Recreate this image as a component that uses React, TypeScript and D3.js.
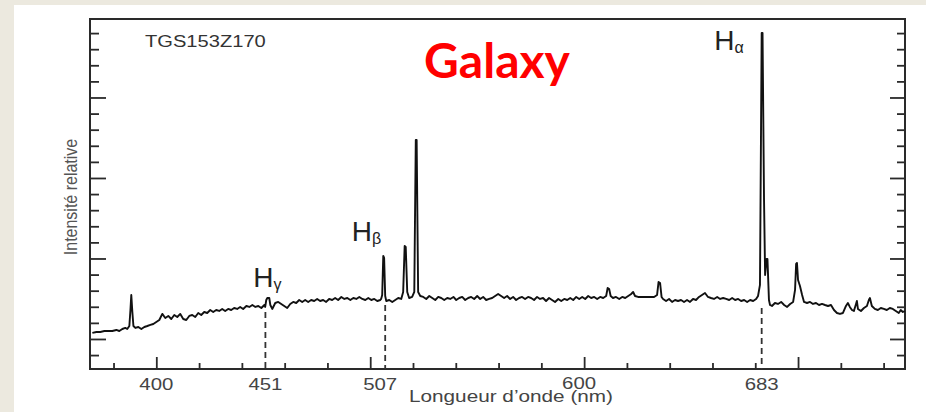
import React, { useEffect, useRef } from 'react'
import * as d3 from 'd3'

// wavelength (nm), relative intensity
const spectrum: [number, number][] = [
  [370.1, 1.075], [372.0, 1.087], [373.8, 1.087], [375.7, 1.099], [377.6, 1.099], [379.4, 1.099],
  [381.3, 1.112], [382.7, 1.099], [384.1, 1.124], [385.5, 1.137], [386.4, 1.124], [387.4, 1.161],
  [387.9, 1.36], [388.3, 1.547], [388.8, 1.335], [389.3, 1.161], [390.2, 1.137], [391.6, 1.149],
  [393.0, 1.124], [394.4, 1.149], [395.8, 1.161], [397.2, 1.174], [398.6, 1.186],
  [400.0, 1.211], [401.4, 1.236], [402.8, 1.311], [404.2, 1.261], [405.6, 1.286], [407.0, 1.248],
  [408.4, 1.298], [409.8, 1.273], [411.2, 1.311], [412.6, 1.248], [414.0, 1.236], [415.4, 1.286],
  [416.8, 1.298], [418.2, 1.273], [419.6, 1.323], [421.0, 1.298], [422.4, 1.335], [423.8, 1.323],
  [425.2, 1.36], [426.6, 1.335], [428.0, 1.36], [429.4, 1.348], [430.8, 1.373], [432.2, 1.348],
  [433.6, 1.373], [435.0, 1.36], [436.4, 1.385], [437.8, 1.373], [439.2, 1.398], [440.6, 1.373],
  [442.1, 1.41], [443.5, 1.398], [444.9, 1.422], [446.3, 1.398], [447.7, 1.41], [449.1, 1.385],
  [450.5, 1.422], [450.9, 1.398], [451.4, 1.484], [451.9, 1.509], [452.8, 1.509], [453.3, 1.422],
  [454.2, 1.373], [455.6, 1.447], [457.0, 1.46], [458.4, 1.435], [459.8, 1.41], [461.2, 1.385],
  [462.6, 1.435], [464.0, 1.46], [465.4, 1.447], [466.8, 1.484], [468.2, 1.46], [469.6, 1.484],
  [471.0, 1.46], [472.4, 1.484], [473.8, 1.472], [475.2, 1.497], [476.6, 1.472], [478.0, 1.484],
  [479.4, 1.46], [480.8, 1.497], [482.2, 1.484], [483.6, 1.509], [485.0, 1.484], [486.5, 1.522],
  [487.9, 1.497], [489.3, 1.509], [490.7, 1.484], [492.1, 1.509], [493.5, 1.497], [494.9, 1.522],
  [496.3, 1.497], [497.7, 1.484], [499.1, 1.509], [500.5, 1.484], [501.9, 1.497], [503.3, 1.472],
  [504.7, 1.484], [505.1, 1.497], [505.6, 1.547], [506.1, 2.031], [506.5, 2.006], [507.0, 1.534],
  [507.5, 1.472], [508.9, 1.484], [510.3, 1.46], [511.7, 1.484], [513.1, 1.509], [514.5, 1.497],
  [515.4, 1.584], [516.1, 2.155], [516.6, 2.143], [517.3, 1.584], [518.2, 1.509], [519.6, 1.522],
  [520.6, 1.584], [521.3, 3.472], [521.7, 3.472], [522.4, 1.584], [523.4, 1.534],
  [524.8, 1.522], [526.2, 1.497], [527.6, 1.534], [529.0, 1.509], [530.4, 1.484], [531.8, 1.522],
  [533.2, 1.509], [534.6, 1.484], [536.0, 1.509], [537.4, 1.497], [538.9, 1.522], [540.2, 1.484],
  [541.6, 1.509], [543.0, 1.522], [544.4, 1.484], [545.8, 1.509], [547.2, 1.522], [548.6, 1.497],
  [550.0, 1.534], [551.4, 1.497], [552.8, 1.522], [554.2, 1.484], [555.6, 1.497], [557.0, 1.509],
  [558.4, 1.534], [559.8, 1.559], [561.2, 1.534], [562.6, 1.509], [564.0, 1.534], [565.4, 1.497],
  [566.8, 1.522], [568.2, 1.484], [569.6, 1.509], [571.0, 1.522], [572.4, 1.497], [573.8, 1.522],
  [575.2, 1.509], [576.6, 1.484], [578.0, 1.522], [579.4, 1.497], [580.8, 1.509], [582.2, 1.472],
  [583.6, 1.509], [585.0, 1.484], [586.4, 1.46], [587.9, 1.497], [589.3, 1.472], [590.7, 1.497],
  [592.1, 1.484], [593.5, 1.509], [594.9, 1.484], [596.3, 1.522], [597.7, 1.497], [599.1, 1.522],
  [600.5, 1.497], [601.9, 1.534], [603.3, 1.509], [604.7, 1.522], [606.1, 1.497], [607.5, 1.522],
  [608.9, 1.509], [610.3, 1.534], [611.0, 1.634], [611.7, 1.621], [612.4, 1.534], [613.5, 1.509],
  [614.9, 1.522], [616.4, 1.497], [617.8, 1.522], [619.2, 1.509], [620.6, 1.534], [622.0, 1.559],
  [622.9, 1.584], [623.8, 1.534], [625.2, 1.522], [627.1, 1.522], [629.9, 1.522], [632.7, 1.522],
  [634.1, 1.547], [634.8, 1.708], [635.5, 1.696], [636.2, 1.522], [636.9, 1.497], [638.3, 1.472],
  [639.7, 1.497], [641.1, 1.46], [642.5, 1.484], [643.9, 1.472], [645.3, 1.484], [646.7, 1.46],
  [648.1, 1.484], [649.5, 1.46], [650.9, 1.497], [652.3, 1.484], [653.7, 1.522], [655.1, 1.547],
  [656.5, 1.571], [657.9, 1.522], [659.3, 1.509], [660.7, 1.497], [662.2, 1.522], [663.6, 1.497],
  [665.0, 1.509], [666.4, 1.497], [667.8, 1.484], [669.2, 1.509], [670.6, 1.484], [672.0, 1.497],
  [673.4, 1.472], [674.8, 1.484], [676.2, 1.46], [677.6, 1.484], [679.0, 1.472], [680.4, 1.497],
  [681.3, 1.534], [682.2, 1.671], [683.0, 4.801], [683.4, 4.801], [684.1, 2.727], [684.6, 1.795],
  [685.3, 1.994], [685.7, 1.994], [686.4, 1.484], [686.9, 1.422], [687.8, 1.41], [689.2, 1.447],
  [690.6, 1.435], [692.1, 1.46], [693.5, 1.422], [694.9, 1.398], [696.3, 1.435], [697.7, 1.46],
  [698.6, 1.609], [699.1, 1.932], [699.5, 1.944], [700.0, 1.733], [700.9, 1.658], [701.9, 1.547],
  [702.8, 1.46], [704.2, 1.447], [705.6, 1.46], [707.0, 1.435], [708.4, 1.447], [709.8, 1.422],
  [711.2, 1.435], [712.6, 1.422], [714.0, 1.41], [715.4, 1.422], [716.8, 1.36], [718.2, 1.323],
  [719.6, 1.311], [721.0, 1.323], [722.4, 1.41], [723.3, 1.447], [724.2, 1.398], [725.2, 1.36],
  [726.1, 1.348], [727.1, 1.435], [727.5, 1.472], [728.0, 1.373], [729.4, 1.348], [730.8, 1.385],
  [732.2, 1.41], [733.1, 1.484], [733.6, 1.509], [734.5, 1.41], [735.9, 1.373], [737.3, 1.36],
  [738.7, 1.385], [740.1, 1.373], [741.5, 1.36], [742.9, 1.385], [744.3, 1.373], [745.7, 1.348],
  [747.1, 1.323], [748.0, 1.36], [749.0, 1.335], [749.9, 1.348]
]

const majorX = [400, 500, 600, 700]
const minorX = [380, 420, 440, 460, 480, 520, 540, 560, 580, 620, 640, 660, 680, 720, 740]
const xLabels = [400, 451, 507, 600, 683]
const majorY = [1, 2, 3, 4]
const minorY = [0.8, 1.2, 1.4, 1.6, 1.8, 2.2, 2.4, 2.6, 2.8, 3.2, 3.4, 3.6, 3.8, 4.2, 4.4, 4.6, 4.8]
const markedLines = [451, 507, 683]
const lineNames = ['γ', 'β', 'α']
const lineLevels = [1.65, 2.22, 4.59]

export default function App() {
  const ref = useRef<SVGSVGElement>(null)

  useEffect(() => {
    const svg = d3.select(ref.current)
    svg.selectAll('*').remove()

    const left = 90, right = 905, top = 19, bottom = 369
    const x = d3.scaleLinear().domain([369, 750]).range([left, right])
    const y = d3.scaleLinear().domain([0.627, 4.975]).range([bottom, top])

    svg.append('rect').attr('width', 926).attr('height', 412).attr('fill', '#ECE9DF')
    svg.append('rect').attr('x', 14).attr('y', 5).attr('width', 912).attr('height', 407).attr('fill', '#fff')

    // ticks, all pointing inwards
    const axes = [
      { ax: d3.axisBottom(x).tickValues(minorX).tickSize(-6), t: `translate(0,${bottom})` },
      { ax: d3.axisBottom(x).tickValues(majorX).tickSize(-12), t: `translate(0,${bottom})` },
      { ax: d3.axisLeft(y).tickValues(minorY).tickSize(-9), t: `translate(${left},0)` },
      { ax: d3.axisLeft(y).tickValues(majorY).tickSize(-16), t: `translate(${left},0)` },
      { ax: d3.axisRight(y).tickValues(minorY).tickSize(-8), t: `translate(${right},0)` },
      { ax: d3.axisRight(y).tickValues(majorY).tickSize(-15), t: `translate(${right},0)` }
    ]
    axes.forEach(a => {
      const g = svg.append('g').attr('transform', a.t).attr('color', '#2a2a2a')
        .call(a.ax.tickFormat(() => '') as any)
      g.select('.domain').remove()
      g.selectAll('line').attr('stroke-width', 1.8)
    })

    svg.append('rect')
      .attr('x', left).attr('y', top).attr('width', right - left).attr('height', bottom - top)
      .attr('fill', 'none').attr('stroke', '#2a2a2a').attr('stroke-width', 2)

    // dashed markers from the continuum down to the axis
    markedLines.forEach(nm => {
      const near = spectrum.filter(d => Math.abs(d[0] - nm) <= 4)
      const low = d3.min(near, d => d[1]) as number
      svg.append('line')
        .attr('x1', x(nm)).attr('x2', x(nm))
        .attr('y1', y(low) + 3).attr('y2', bottom)
        .attr('stroke', '#333').attr('stroke-width', 1.8).attr('stroke-dasharray', '6,4')
    })

    const line = d3.line<[number, number]>().x(d => x(d[0])).y(d => y(d[1]))
    svg.append('path').datum(spectrum)
      .attr('d', line)
      .attr('fill', 'none').attr('stroke', '#111').attr('stroke-width', 1.9)
      .attr('stroke-linejoin', 'round')

    const font = 'Liberation Sans, Arial, sans-serif'
    const labelShift: Record<number, number> = { 507: -5, 600: -5 }
    xLabels.forEach(v => {
      svg.append('text')
        .attr('transform', `translate(${x(v) + (labelShift[v] || 0)},${v === 600 ? 389 : 390}) scale(1.2,1)`)
        .attr('text-anchor', 'middle').attr('font-family', font).attr('font-size', 17)
        .attr('fill', '#444').text(v)
    })

    svg.append('text')
      .attr('transform', 'translate(511,402) scale(1.22,1)')
      .attr('text-anchor', 'middle').attr('font-family', font).attr('font-size', 17)
      .attr('fill', '#444').text('Longueur d’onde (nm)')

    svg.append('text')
      .attr('transform', 'translate(77,197) rotate(-90) scale(1,1.2)')
      .attr('text-anchor', 'middle').attr('font-family', font).attr('font-size', 16)
      .attr('fill', '#555').text('Intensité relative')

    svg.append('text')
      .attr('transform', 'translate(145,47) scale(1.22,1)')
      .attr('font-family', font).attr('font-size', 16.5).attr('fill', '#333')
      .text('TGS153Z170')

    // emission line names
    const anchors = ['middle', 'end', 'end']
    const shifts = [2, -4, -18]
    markedLines.forEach((nm, i) => {
      const t = svg.append('text')
        .attr('x', x(nm) + shifts[i]).attr('y', y(lineLevels[i]))
        .attr('text-anchor', anchors[i]).attr('font-family', font).attr('font-size', 28)
        .attr('fill', '#222')
      t.append('tspan').text('H')
      t.append('tspan').attr('font-size', 16).attr('dy', 3).text(lineNames[i])
    })

    svg.append('text')
      .attr('x', 497).attr('y', 78).attr('text-anchor', 'middle')
      .attr('font-family', 'Lato, sans-serif').attr('font-weight', 'bold').attr('font-size', 48)
      .attr('fill', '#FF0000').text('Galaxy')
  }, [])

  return (
    <svg ref={ref} width={926} height={412}
      style={{ position: 'absolute', left: 0, top: 0, display: 'block' }} />
  )
}
